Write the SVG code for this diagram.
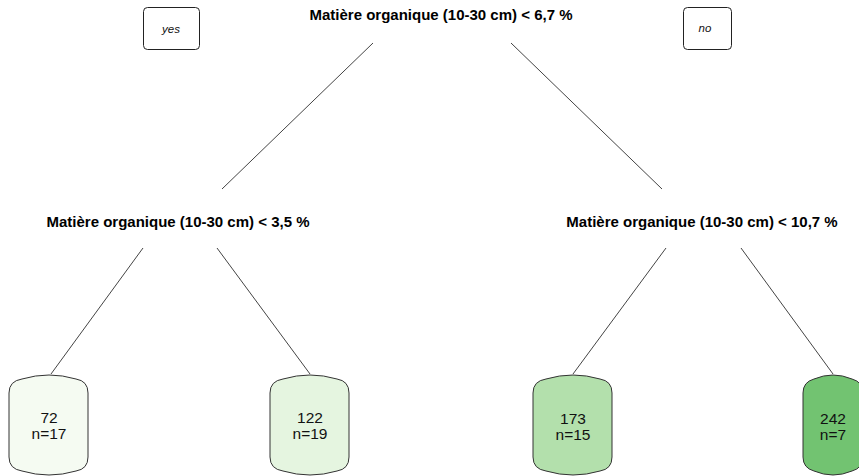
<svg xmlns="http://www.w3.org/2000/svg" width="859" height="476" viewBox="0 0 859 476">
<style>
.bg{fill:#ffffff}
.split{font-family:"Liberation Sans",Arial,sans-serif;font-weight:bold;font-size:15px;fill:#000;text-anchor:middle}
.leaft{font-family:"Liberation Sans",Arial,sans-serif;font-size:15.5px;fill:#111;text-anchor:middle}
.lbl{font-family:"Liberation Sans",Arial,sans-serif;font-style:italic;font-size:11.5px;fill:#111;text-anchor:middle}
.lblbox{fill:#ffffff;stroke:#222;stroke-width:1}
.leaf{stroke:#333;stroke-width:1}
.edge{stroke:#444;stroke-width:1;fill:none}
</style>
<rect class="bg" x="0" y="0" width="859" height="476"/>
<g id="connectors">
<line class="edge" x1="373" y1="43" x2="222" y2="189"/>
<line class="edge" x1="511" y1="43" x2="662" y2="189"/>
<line class="edge" x1="143" y1="248" x2="51" y2="374"/>
<line class="edge" x1="217" y1="248" x2="310" y2="374"/>
<line class="edge" x1="666" y1="248" x2="573" y2="374"/>
<line class="edge" x1="741" y1="248" x2="833" y2="374"/>
</g>
<g id="label-yes">
<rect class="lblbox" x="143.5" y="7.5" width="56" height="42" rx="4"/>
<text class="lbl" x="171" y="33">yes</text>
</g>
<g id="label-no">
<rect class="lblbox" x="683.5" y="7.5" width="48" height="42" rx="4"/>
<text class="lbl" x="705" y="32">no</text>
</g>
<g id="node-root">
<text class="split" x="441" y="20">Matière organique (10-30 cm) &lt; 6,7 %</text>
</g>
<g id="node-left">
<text class="split" x="178" y="227">Matière organique (10-30 cm) &lt; 3,5 %</text>
</g>
<g id="node-right">
<text class="split" x="702" y="227">Matière organique (10-30 cm) &lt; 10,7 %</text>
</g>
<g id="leaf-1">
<path class="leaf" fill="#F5FBF2" d="M9,393 Q9,381 22,379 Q49,371 76,379 Q88,381 88,393 L88,457 Q88,469 76,471 Q49,479 22,471 Q9,469 9,457 Z"/>
<text class="leaft" x="49" y="423">72</text>
<text class="leaft" x="49" y="439">n=17</text>
</g>
<g id="leaf-2">
<path class="leaf" fill="#E5F5E0" d="M270,393 Q270,381 283,379 Q310,371 337,379 Q349,381 349,393 L349,457 Q349,469 337,471 Q310,479 283,471 Q270,469 270,457 Z"/>
<text class="leaft" x="310" y="423">122</text>
<text class="leaft" x="310" y="439">n=19</text>
</g>
<g id="leaf-3">
<path class="leaf" fill="#B3E0AC" d="M533,393 Q533,381 546,379 Q573,371 600,379 Q612,381 612,393 L612,457 Q612,469 600,471 Q573,479 546,471 Q533,469 533,457 Z"/>
<text class="leaft" x="573" y="424">173</text>
<text class="leaft" x="573" y="440">n=15</text>
</g>
<g id="leaf-4">
<path class="leaf" fill="#72C371" d="M803,393 Q803,382 814,379 Q833,371 852,379 Q863,382 863,393 L863,457 Q863,468 852,471 Q833,479 814,471 Q803,468 803,457 Z"/>
<text class="leaft" x="833" y="424">242</text>
<text class="leaft" x="833" y="440">n=7</text>
</g>
</svg>
